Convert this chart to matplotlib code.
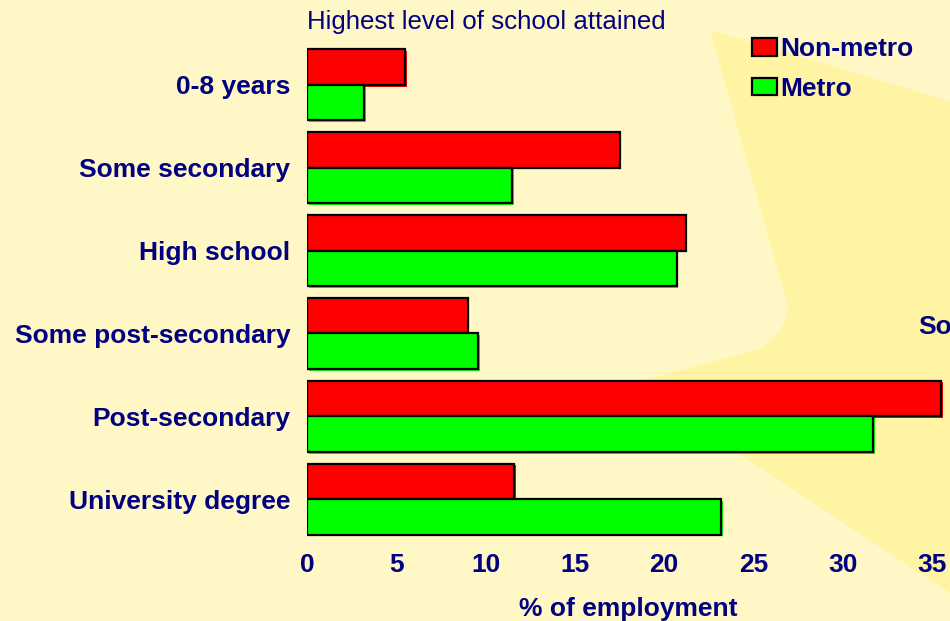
import matplotlib.pyplot as plt
import matplotlib.patheffects as pe
from matplotlib.patches import Polygon, Patch
import numpy as np

plt.rcParams['font.family'] = ['Liberation Sans', 'DejaVu Sans']

categories = ["0-8 years", "Some secondary", "High school",
              "Some post-secondary", "Post-secondary", "University degree"]
non_metro = [5.5, 17.5, 21.2, 9.0, 35.5, 11.6]
metro = [3.2, 11.5, 20.7, 9.6, 31.7, 23.2]
xticks = [0, 5, 10, 15, 20, 25, 30, 35]

navy = "#000080"
red = "#FF0000"
green = "#00FF00"
bg_light = "#FFF8C6"
bg_dark = "#FFF4A3"

W, H = 950, 621
fig = plt.figure(figsize=(W / 100, H / 100), dpi=100, facecolor=bg_light)

# background star shape (pixel coords -> figure fraction)
star_px = [(710, 30), (950, 101), (950, 593), (733, 450), (631, 383),
           (758, 350), (775, 337), (785, 322), (788, 306)]
star = Polygon([(x / W, 1 - y / H) for x, y in star_px], closed=True,
               transform=fig.transFigure, facecolor=bg_dark, edgecolor="none",
               zorder=-10)
fig.patches.append(star)

ax = fig.add_axes([307 / W, (H - 540.6) / H, (W - 307) / W, 497.2 / H])
ax.set_zorder(5)
ax.patch.set_visible(False)

y = np.arange(len(categories))
h = 0.43

def shadow(c):
    return [pe.SimplePatchShadow(offset=(1.2, -1.2), shadow_rgbFace=c, alpha=1), pe.Normal()]

for yi, v in zip(y, non_metro):
    b = ax.barh(yi - h / 2, v, h, color=red, edgecolor="black", linewidth=1.6)
    b[0].set_path_effects(shadow(red))
for yi, v in zip(y, metro):
    b = ax.barh(yi + h / 2, v, h, color=green, edgecolor="black", linewidth=1.6)
    b[0].set_path_effects(shadow(green))

ax.set_xlim(0, 36)
ax.set_ylim(len(categories) - 0.5, -0.5)
ax.set_yticks(y)
ax.set_yticklabels(categories)
ax.set_xticks(xticks)
ax.set_xticklabels([str(t) for t in xticks])
ax.tick_params(axis="y", length=0, pad=12, labelsize=19, labelcolor=navy)
ax.tick_params(axis="x", length=0, pad=9, labelsize=19, labelcolor=navy)
for lbl in ax.get_xticklabels() + ax.get_yticklabels():
    lbl.set_fontweight("bold")
for s in ax.spines.values():
    s.set_visible(False)

ax.set_xlabel("% of employment", fontsize=19, fontweight="bold", color=navy, labelpad=14)

fig.text(307 / W, 1 - 22 / H, "Highest level of school attained", fontsize=18.6,
         color=navy, ha="left", va="center")
fig.text(918 / W, 1 - 327 / H, "So", fontsize=19, fontweight="bold",
         color=navy, ha="left", va="center")

handles = [Patch(facecolor=red, edgecolor="black", linewidth=1.6),
           Patch(facecolor=green, edgecolor="black", linewidth=1.6)]
leg = fig.legend(handles, ["Non-metro", "Metro"], loc="upper left",
                 bbox_to_anchor=(752 / W, 1 - 37 / H), frameon=False,
                 handlelength=0.96, handleheight=0.65, handletextpad=0.1,
                 labelspacing=0.6, borderpad=0, borderaxespad=0,
                 prop={"size": 19, "weight": "bold"})
leg.set_zorder(6)
for t in leg.get_texts():
    t.set_color(navy)

fig.savefig("out.png", dpi=100, facecolor=bg_light)
